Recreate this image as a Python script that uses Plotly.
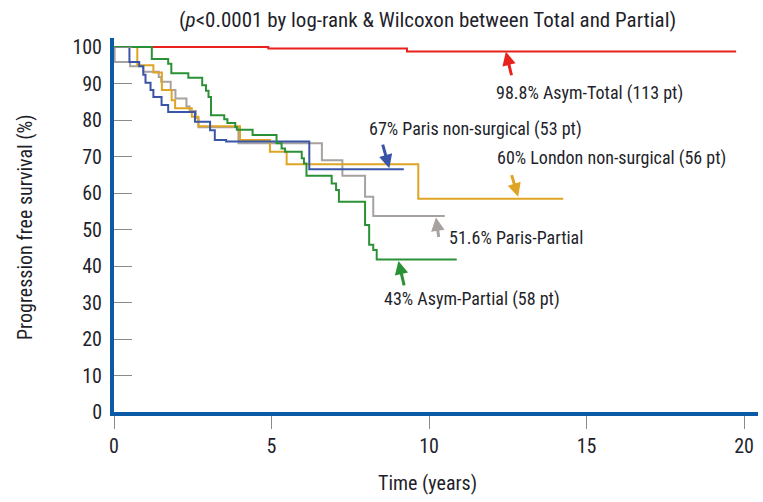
import plotly.graph_objects as go

# ---- data ----
red_t = [0, 4.9, 9.3]
red_s = [100, 99.6, 98.8]
red_end = 19.75

blue_t = [0, 0.49, 0.80, 0.93, 1.0, 1.16, 1.25, 1.51, 1.72, 2.57, 3.05, 3.2, 3.56, 6.2]
blue_s = [100, 95.9, 94.7, 92.4, 90.2, 88.2, 86.3, 84.1, 82.2, 79.5, 77.2, 74.5, 74.1, 66.5]
blue_end = 9.2

gold_t = [0, 0.74, 1.25, 1.52, 1.83, 1.94, 2.47, 2.68, 4.0, 4.95, 5.48, 9.66]
gold_s = [100, 95.0, 93.0, 88.2, 85.4, 83.2, 80.9, 78.3, 74.5, 71.3, 67.9, 58.4]
gold_end = 14.26

gray_t = [0, 0.02, 0.51, 0.93, 1.42, 1.5, 1.8, 1.95, 2.3, 2.4, 2.6, 2.68, 3.95, 6.6, 7.25, 7.97, 8.23]
gray_s = [100, 95.9, 94.7, 93.2, 91.8, 90.5, 88.2, 85.9, 83.7, 82.5, 80.5, 78.0, 73.6, 69.0, 64.7, 59.0, 53.7]
gray_end = 10.5

green_t = [0, 1.2, 1.72, 1.82, 2.36, 2.8, 2.92, 3.0, 3.08, 3.5, 3.6, 3.85, 3.9, 4.4, 5.16, 5.32,
           5.43, 5.96, 6.03, 6.11, 6.91, 7.05, 7.14, 7.97, 8.1, 8.23, 8.34]
green_s = [100, 96.7, 95.4, 92.8, 91.6, 89.5, 88.0, 86.3, 81.3, 80.2, 79.2, 78.1, 77.3, 75.9, 73.6, 72.2,
           71.3, 69.5, 68.1, 64.7, 62.6, 60.8, 57.6, 51.2, 45.8, 44.4, 41.8]
green_end = 10.88

x_ticks = [0, 5, 10, 15, 20]
y_ticks = [0, 10, 20, 30, 40, 50, 60, 70, 80, 90, 100]

labels = ["98.8% Asym-Total (113 pt)", "67% Paris non-surgical (53 pt)",
          "60% London non-surgical (56 pt)", "51.6% Paris-Partial", "43% Asym-Partial (58 pt)"]
title_text = "(<i>p</i>&lt;0.0001 by log-rank &amp; Wilcoxon between Total and Partial)"
x_title = "Time (years)"
y_title = "Progression free survival (%)"

FONT = "Roboto Condensed, Liberation Sans Narrow, Arial Narrow, sans-serif"
TXT = "#1f1f2b"
AXIS = "#0b5aa5"

W, H = 763, 502
L, R, T, B = 114, 5, 38, 90
pw, ph = W - L - R, H - T - B
X_PER_YEAR = 31.5   # px per year
Y_PER_10 = 36.5     # px per 10 %

series = [
    (red_t, red_s, red_end, "#e8211d"),
    (gray_t, gray_s, gray_end, "#a7a2a0"),
    (gold_t, gold_s, gold_end, "#e0a425"),
    (blue_t, blue_s, blue_end, "#3b55a6"),
    (green_t, green_s, green_end, "#2b9136"),
]

fig = go.Figure()
for t, s, end, col in series:
    fig.add_trace(go.Scatter(
        x=t + [end], y=s + [s[-1]], mode="lines",
        line=dict(color=col, width=2, shape="hv"),
        showlegend=False, hoverinfo="skip"))


def px_to_paper(px, py):
    return (px - L) / pw, (H - B - py) / ph


text_pos = [(15.08, 87.4), (11.49, 77.5), (15.79, 69.6), (12.76, 47.7), (11.35, 31.0)]
arrow_tip = [(12.44, 98.7), (8.74, 66.8), (12.83, 59.0), (10.22, 53.3), (9.03, 41.4)]
arrow_off = [(6, 25), (-7, -25), (-7, -23), (3, 21), (6, 26)]
arrow_col = ["#e8211d", "#3b55a6", "#e0a425", "#a7a2a0", "#2b9136"]

anns = []
for lab, (tx, ty) in zip(labels, text_pos):
    anns.append(dict(x=tx, y=ty, xref="x", yref="y", text=lab, showarrow=False,
                     xanchor="center", yanchor="middle",
                     font=dict(family=FONT, size=18, color=TXT)))
for (x, y), (ax, ay), col in zip(arrow_tip, arrow_off, arrow_col):
    anns.append(dict(x=x, y=y, xref="x", yref="y", ax=ax, ay=ay,
                     text="", showarrow=True, arrowhead=2, arrowsize=0.9, arrowwidth=3,
                     arrowcolor=col, standoff=0, startstandoff=0))

tp = px_to_paper(427, 20)
anns.append(dict(x=tp[0], y=tp[1], xref="paper", yref="paper", text=title_text, showarrow=False,
                 xanchor="center", yanchor="middle",
                 font=dict(family=FONT, size=21, color=TXT)))
xt = px_to_paper(427.5, 483)
anns.append(dict(x=xt[0], y=xt[1], xref="paper", yref="paper", text=x_title, showarrow=False,
                 xanchor="center", yanchor="middle",
                 font=dict(family=FONT, size=20, color=TXT)))
yt = px_to_paper(25, 227)
anns.append(dict(x=yt[0], y=yt[1], xref="paper", yref="paper", text=y_title,
                 showarrow=False, textangle=-90, xanchor="center", yanchor="middle",
                 font=dict(family=FONT, size=20, color=TXT)))

fig.update_layout(
    width=W, height=H,
    margin=dict(l=L, r=R, t=T, b=B, pad=0),
    paper_bgcolor="white", plot_bgcolor="white",
    annotations=anns,
    xaxis=dict(range=[0, pw / X_PER_YEAR], tickvals=x_ticks, showgrid=False, zeroline=False,
               showline=True, linecolor=AXIS, linewidth=4,
               ticks="outside", ticklen=13, tickwidth=1.2, tickcolor="#8a8a8a",
               tickfont=dict(family=FONT, size=20, color=TXT), ticklabelstandoff=0),
    yaxis=dict(range=[0, ph / (Y_PER_10 / 10)], tickvals=y_ticks, showgrid=False, zeroline=False,
               showline=True, linecolor=AXIS, linewidth=4,
               ticks="inside", ticklen=18, tickwidth=1.2, tickcolor="#8a8a8a",
               tickfont=dict(family=FONT, size=20, color=TXT), ticklabelstandoff=4),
)

fig.write_html("out.html", config={"displayModeBar": False},
               post_script="document.body.style.margin='0px';document.body.style.overflow='hidden';")
